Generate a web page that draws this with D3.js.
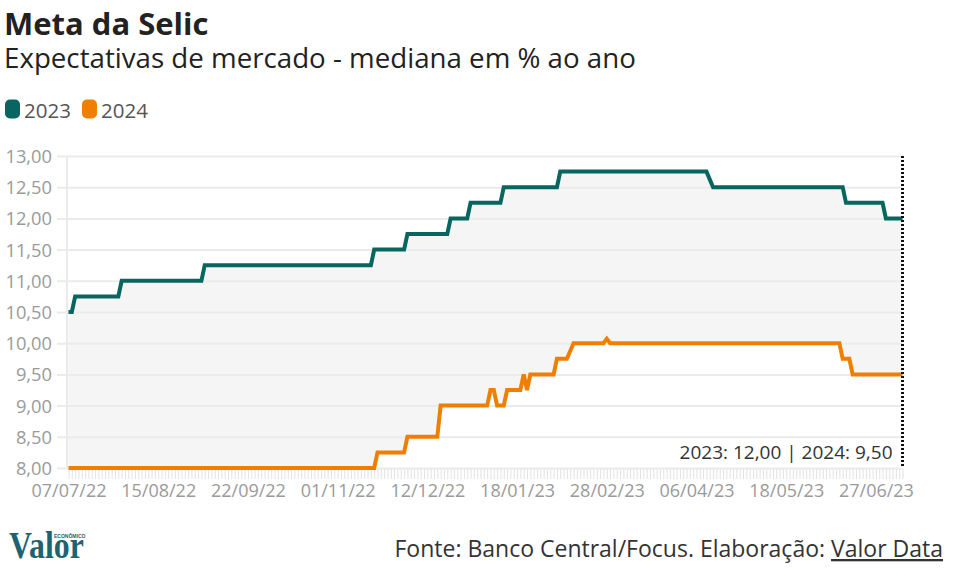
<!DOCTYPE html>
<html><head><meta charset="utf-8">
<script src="https://cdn.jsdelivr.net/npm/d3@7"></script>
<style>
html,body{margin:0;padding:0;background:#fff;}
svg{display:block;font-family:"Open Sans",sans-serif;}
</style></head><body>
<svg id="chart" width="963" height="584"></svg>
<script>
// ---------- data ----------
const title = "Meta da Selic";
const subtitle = "Expectativas de mercado - mediana em % ao ano";
const seriesNames = ["2023", "2024"];
const seriesColors = ["#07665f", "#ef7f00"];
const yTicks = [8, 8.5, 9, 9.5, 10, 10.5, 11, 11.5, 12, 12.5, 13];
const xTickLabels = ["07/07/22", "15/08/22", "22/09/22", "01/11/22", "12/12/22",
                     "18/01/23", "28/02/23", "06/04/23", "18/05/23", "27/06/23"];
const firstDay = "2022-07-07";
const lastDay = "2023-07-07";
const holidays = ["2022-09-07", "2022-10-12", "2022-11-02", "2022-11-15",
                  "2023-02-20", "2023-02-21", "2023-04-07", "2023-04-21",
                  "2023-05-01", "2023-06-08"];
// vertices of the 2023 expectation line (date, % a.a.)
const dates2023 = ["2022-07-07", "2022-07-08", "2022-07-11", "2022-07-28", "2022-07-29",
  "2022-09-01", "2022-09-02", "2022-11-17", "2022-11-18", "2022-12-01", "2022-12-02",
  "2022-12-20", "2022-12-21", "2022-12-28", "2022-12-29", "2023-01-11", "2023-01-12",
  "2023-02-03", "2023-02-06", "2023-04-12", "2023-04-14", "2023-06-13", "2023-06-14",
  "2023-06-29", "2023-06-30", "2023-07-07"];
const values2023 = [10.50, 10.50, 10.75, 10.75, 11.00,
  11.00, 11.25, 11.25, 11.50, 11.50, 11.75,
  11.75, 12.00, 12.00, 12.25, 12.25, 12.50,
  12.50, 12.75, 12.75, 12.50, 12.50, 12.25,
  12.25, 12.00, 12.00];
// vertices of the 2024 expectation line
const dates2024 = ["2022-07-07", "2022-11-18", "2022-11-21", "2022-12-01", "2022-12-02",
  "2022-12-15", "2022-12-16", "2023-01-05", "2023-01-06", "2023-01-09", "2023-01-10",
  "2023-01-12", "2023-01-13", "2023-01-19", "2023-01-20", "2023-01-23", "2023-01-24",
  "2023-02-02", "2023-02-03", "2023-02-08", "2023-02-10", "2023-02-27", "2023-02-28",
  "2023-03-01", "2023-06-12", "2023-06-13", "2023-06-15", "2023-06-16", "2023-07-07"];
const values2024 = [8.00, 8.00, 8.25, 8.25, 8.50,
  8.50, 9.00, 9.00, 9.25, 9.25, 9.00,
  9.00, 9.25, 9.25, 9.50, 9.25, 9.50,
  9.50, 9.75, 9.75, 10.00, 10.00, 10.07,
  10.00, 10.00, 9.75, 9.75, 9.50, 9.50];
const sourceText = "Fonte: Banco Central/Focus. Elaboração: ";
const sourceLink = "Valor Data";

// ---------- helpers ----------
const parse = d3.timeParse("%Y-%m-%d");
const key = d3.timeFormat("%Y-%m-%d");
const parseLabel = d3.timeParse("%d/%m/%y");
const br = d3.formatLocale({decimal: ",", thousands: ".", grouping: [3], currency: ["R$", ""]});
const fmt = br.format(".2f");

const holidaySet = new Set(holidays);
const businessDays = d3.timeDay.range(parse(firstDay), d3.timeDay.offset(parse(lastDay), 1))
  .filter(d => d.getDay() !== 0 && d.getDay() !== 6 && !holidaySet.has(key(d)))
  .map(key);

const svg = d3.select("#chart");
const x = d3.scalePoint().domain(businessDays).range([68.5, 902.5]);
const y = d3.scaleLinear().domain([8, 13]).range([468, 156]);

const s2023 = dates2023.map((d, i) => ({d, v: values2023[i]}));
const s2024 = dates2024.map((d, i) => ({d, v: values2024[i]}));

// ---------- header ----------
svg.append("text").attr("x", 4).attr("y", 35)
  .attr("font-size", 31).attr("font-weight", 700).attr("fill", "#222").text(title);
svg.append("text").attr("x", 4).attr("y", 68)
  .attr("font-size", 27.7).attr("fill", "#222").text(subtitle);

const legend = svg.append("g");
let lx = 5;
seriesNames.forEach((n, i) => {
  legend.append("rect").attr("x", lx).attr("y", 99.5).attr("width", 15).attr("height", 19)
    .attr("rx", 5).attr("fill", seriesColors[i]);
  legend.append("text").attr("x", lx + 19).attr("y", 118)
    .attr("font-size", 20.5).attr("fill", "#555").text(n);
  lx += 77;
});

// ---------- plot ----------
const lineGen = d3.line().x(p => x(p.d)).y(p => y(p.v));

// range area between the two series
svg.append("path")
  .attr("d", lineGen(s2023.concat(s2024.slice().reverse())) + "Z")
  .attr("fill", "#f5f5f5");

// gridlines + y labels
const yAxis = svg.append("g").attr("transform", "translate(902.5,0)")
  .call(d3.axisLeft(y).tickValues(yTicks).tickSize(845.5).tickPadding(5).tickFormat(fmt));
yAxis.select(".domain").remove();
yAxis.selectAll(".tick line").attr("stroke", "#ebebeb").attr("stroke-width", 2);
yAxis.selectAll(".tick text").attr("font-size", 18.3).attr("fill", "#9a9a9a")
  .attr("font-family", "Open Sans").attr("dy", "0.35em");

// vertical axis line
svg.append("line").attr("x1", 67).attr("x2", 67).attr("y1", 156).attr("y2", 469)
  .attr("stroke", "#ebebeb").attr("stroke-width", 2);

// rug of daily ticks
const rug = svg.append("g").attr("transform", "translate(0,469)")
  .call(d3.axisBottom(x).tickValues(businessDays).tickSize(10).tickFormat(""));
rug.select(".domain").remove();
rug.selectAll(".tick line").attr("stroke", "#e2e2e2").attr("stroke-width", 1);

// x labels
const labelKeys = xTickLabels.map(l => key(parseLabel(l)));
const xLab = svg.append("g").attr("transform", "translate(0,480)")
  .call(d3.axisBottom(x).tickValues(labelKeys).tickSize(0).tickPadding(0)
    .tickFormat((k, i) => xTickLabels[i]));
xLab.select(".domain").remove();
xLab.selectAll(".tick text").attr("font-size", 18).attr("fill", "#9a9a9a")
  .attr("font-family", "Open Sans").attr("y", 0).attr("dy", "0.95em");

// series lines
[s2024, s2023].forEach((s, j) => {
  svg.append("path").attr("d", lineGen(s)).attr("fill", "none")
    .attr("stroke", seriesColors[1 - j]).attr("stroke-width", 4)
    .attr("stroke-linejoin", "miter").attr("stroke-linecap", "butt");
});

// last-value marker
const lastX = x(businessDays[businessDays.length - 1]);
svg.append("line").attr("x1", lastX).attr("x2", lastX).attr("y1", y(13)).attr("y2", y(8))
  .attr("stroke", "#111").attr("stroke-width", 3).attr("stroke-dasharray", "2,2");
svg.append("text").attr("x", lastX - 10).attr("y", 459).attr("text-anchor", "end")
  .attr("font-size", 19).attr("fill", "#333")
  .text(`${seriesNames[0]}: ${fmt(values2023[values2023.length - 1])} | ${seriesNames[1]}: ${fmt(values2024[values2024.length - 1])}`);

// ---------- footer ----------
const logo = svg.append("g").attr("transform", "translate(9,558)");
logo.append("text").attr("font-family", "Liberation Serif").attr("font-size", 37)
  .attr("font-weight", 700).attr("fill", "#1d6371").attr("transform", "scale(0.86,1)").text("Valor");
logo.append("text").attr("x", 45).attr("y", -20).attr("font-family", "Liberation Sans")
  .attr("font-size", 5).attr("font-weight", 700).attr("fill", "#1d6371").text("ECONÔMICO");

const src = svg.append("text").attr("x", 943).attr("y", 557).attr("text-anchor", "end")
  .attr("font-size", 23).attr("fill", "#333");
src.append("tspan").text(sourceText);
src.append("tspan").attr("text-decoration", "underline").text(sourceLink);
</script>
</body></html>
